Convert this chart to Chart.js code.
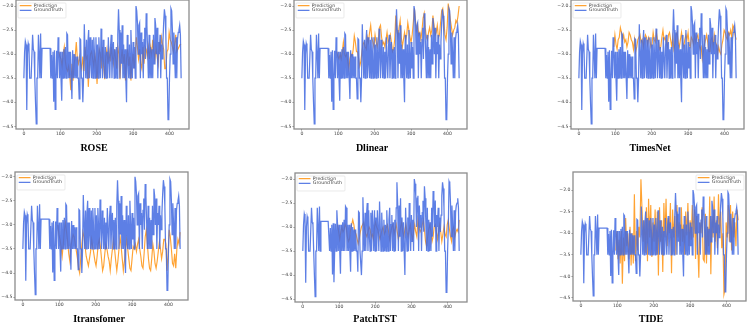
<!DOCTYPE html>
<html><head><meta charset="utf-8">
<script src="https://cdn.jsdelivr.net/npm/chart.js@4"></script>
<style>html,body{margin:0;padding:0;background:#fff;width:747px;height:323px;overflow:hidden}
canvas{position:absolute;left:0;top:0;filter:blur(0.4px)}</style></head><body>
<script>
const sampleX=[0,2,4,6,8,10,12,14,16,18,20,22,24,26,28,30,32,34,36,38,40,42,44,46,48,50,52,54,56,58,60,62,64,66,68,70,72,74,76,78,80,82,84,86,88,90,92,94,96,98,100,102,104,106,108,110,112,114,116,118,120,122,124,126,128,130,132,134,136,138,140,142,144,146,148,150,152,154,156,158,160,162,164,166,168,170,172,174,176,178,180,182,184,186,188,190,192,194,196,198,200,202,204,206,208,210,212,214,216,218,220,222,224,226,228,230,232,234,236,238,240,242,244,246,248,250,252,254,256,258,260,262,264,266,268,270,272,274,276,278,280,282,284,286,288,290,292,294,296,298,300,302,304,306,308,310,312,314,316,318,320,322,324,326,328,330,332,334,336,338,340,342,344,346,348,350,352,354,356,358,360,362,364,366,368,370,372,374,376,378,380,382,384,386,388,390,392,394,396,398,400,402,404,406,408,410,412,414,416,418,420,422,424,426,428,430,432];
const groundTruth=[-3.5,-2.95,-2.73,-2.8,-4.16,-3.0,-2.78,-2.85,-3.5,-3.5,-3.5,-3.5,-2.6,-2.9,-2.95,-3.5,-4.0,-4.45,-3.5,-3.5,-2.6,-3.0,-3.5,-2.57,-3.5,-2.88,-2.88,-2.88,-2.88,-2.88,-2.88,-2.88,-2.88,-2.88,-2.88,-2.88,-2.88,-3.5,-3.02,-3.5,-2.95,-3.99,-2.92,-4.15,-3.5,-2.93,-3.5,-2.65,-2.95,-3.5,-2.95,-3.5,-3.97,-2.95,-3.5,-2.9,-3.5,-2.85,-3.5,-2.57,-2.6,-3.5,-2.95,-3.5,-2.95,-3.5,-3.93,-2.92,-3.5,-3.0,-3.5,-3.05,-3.5,-3.05,-3.5,-3.5,-3.93,-2.68,-2.7,-3.5,-3.5,-4.0,-3.5,-2.38,-2.95,-3.5,-2.7,-3.5,-2.75,-2.5,-3.5,-2.65,-3.2,-3.5,-2.7,-3.5,-2.65,-3.0,-3.5,-2.65,-3.5,-2.8,-3.5,-2.65,-3.05,-3.5,-2.47,-3.0,-3.5,-2.7,-3.1,-3.5,-2.85,-3.5,-2.95,-3.5,-2.65,-3.1,-3.5,-2.85,-2.6,-3.5,-2.95,-2.75,-3.5,-2.9,-3.5,-2.85,-3.5,-2.6,-2.07,-2.5,-3.5,-2.55,-3.2,-2.4,-3.5,-2.8,-3.5,-2.9,-3.5,-4.0,-2.6,-3.1,-3.5,-2.8,-3.5,-2.5,-3.0,-3.5,-2.75,-3.3,-2.85,-3.5,-2.0,-2.1,-2.35,-3.0,-2.4,-2.35,-3.5,-2.55,-3.0,-2.75,-3.5,-2.7,-2.45,-3.1,-2.15,-2.4,-2.95,-3.5,-2.6,-3.5,-2.85,-3.5,-2.9,-3.5,-2.6,-3.2,-2.25,-2.4,-3.0,-2.45,-3.5,-2.75,-3.0,-2.6,-3.5,-2.8,-3.1,-2.75,-2.35,-2.07,-2.2,-2.6,-3.5,-3.5,-4.36,-4.35,-3.5,-3.0,-2.05,-2.1,-2.5,-3.2,-2.55,-3.0,-3.5,-2.65,-3.5,-2.7,-2.55,-2.5,-2.4,-2.6,-3.5];
const predX=[96,99,102,105,108,111,114,117,120,123,126,129,132,135,138,141,144,147,150,153,156,159,162,165,168,171,174,177,180,183,186,189,192,195,198,201,204,207,210,213,216,219,222,225,228,231,234,237,240,243,246,249,252,255,258,261,264,267,270,273,276,279,282,285,288,291,294,297,300,303,306,309,312,315,318,321,324,327,330,333,336,339,342,345,348,351,354,357,360,363,366,369,372,375,378,381,384,387,390,393,396,399,402,405,408,411,414,417,420,423,426,429,432];
const predROSE=[-2.95,-3.05,-3.1,-3.25,-3.0,-2.85,-3.15,-3.3,-3.35,-3.25,-3.45,-3.75,-3.2,-3.55,-3.2,-3.05,-2.75,-3.1,-3.2,-3.05,-3.2,-3.3,-3.05,-3.35,-2.85,-3.1,-3.05,-3.68,-3.2,-3.0,-2.95,-3.1,-3.25,-3.0,-3.2,-3.62,-3.15,-2.9,-3.0,-3.3,-2.85,-3.25,-3.52,-3.05,-2.9,-3.2,-2.95,-3.15,-2.85,-3.05,-3.2,-2.9,-3.1,-3.3,-2.85,-3.0,-3.52,-3.1,-2.9,-3.2,-3.0,-3.55,-3.1,-2.9,-3.25,-3.05,-3.55,-3.2,-3.0,-3.3,-3.0,-2.65,-2.85,-3.1,-2.9,-3.2,-3.3,-2.85,-3.2,-2.85,-2.9,-3.05,-2.85,-3.1,-2.85,-3.0,-2.7,-2.95,-3.1,-2.85,-3.05,-3.2,-2.75,-2.95,-2.65,-2.8,-2.9,-3.3,-3.3,-2.95,-2.9,-2.55,-2.7,-2.75,-2.85,-2.95,-2.8,-2.6,-2.95,-2.9,-2.85,-2.8,-2.8];
const predDlinear=[-2.95,-3.05,-3.1,-3.0,-3.1,-2.95,-2.75,-3.0,-3.05,-3.0,-3.15,-3.3,-3.1,-3.0,-3.05,-2.9,-2.62,-2.75,-2.95,-2.95,-3.1,-3.25,-3.15,-2.95,-2.8,-2.75,-2.85,-2.9,-2.65,-2.75,-2.55,-2.4,-2.65,-2.75,-2.85,-2.6,-2.75,-2.85,-2.7,-2.45,-2.4,-2.65,-2.8,-2.75,-2.85,-2.7,-2.55,-2.75,-2.7,-2.6,-2.75,-2.95,-2.9,-2.7,-2.2,-2.5,-2.65,-2.45,-2.3,-2.65,-2.85,-2.7,-2.55,-2.7,-2.6,-2.35,-2.5,-2.65,-2.75,-2.6,-2.35,-2.05,-2.3,-2.5,-2.4,-2.6,-2.55,-2.7,-2.5,-2.25,-2.15,-2.45,-2.65,-2.7,-2.55,-2.45,-2.6,-2.5,-2.2,-2.4,-2.6,-2.55,-2.4,-2.65,-2.6,-2.35,-2.1,-2.05,-2.3,-2.6,-2.7,-2.45,-1.95,-2.1,-2.3,-2.45,-2.6,-2.5,-2.45,-2.3,-2.35,-2.2,-2.0];
const predTimesNet=[-2.85,-2.6,-2.8,-2.9,-2.7,-2.65,-2.45,-2.55,-2.7,-2.6,-2.75,-2.7,-2.85,-2.75,-2.55,-2.6,-2.7,-2.75,-2.9,-2.7,-2.95,-2.85,-2.7,-2.65,-2.6,-2.75,-2.7,-2.85,-2.7,-2.6,-2.65,-2.8,-2.65,-2.7,-2.85,-2.8,-2.55,-2.7,-2.75,-2.55,-2.7,-2.75,-2.9,-2.85,-2.65,-2.5,-2.7,-2.65,-2.75,-2.85,-2.6,-2.55,-2.7,-2.85,-2.65,-2.9,-2.8,-2.6,-2.55,-2.75,-2.85,-2.7,-2.55,-2.75,-2.85,-2.7,-2.6,-2.7,-2.55,-2.8,-2.85,-2.65,-2.7,-2.8,-2.6,-2.75,-2.65,-2.6,-2.8,-2.9,-2.85,-3.1,-2.95,-2.8,-2.7,-2.6,-2.75,-2.95,-2.95,-2.7,-2.65,-2.85,-2.6,-2.75,-2.8,-3.0,-2.85,-2.95,-3.0,-2.8,-2.7,-2.5,-2.55,-2.65,-2.7,-2.55,-2.6,-2.5,-2.65,-2.4,-2.45,-2.6,-2.7];
const predItransfomer=[-3.0,-3.2,-3.3,-3.45,-3.65,-3.4,-3.1,-2.95,-3.15,-3.35,-3.6,-3.75,-3.45,-3.3,-3.2,-3.25,-3.4,-3.55,-3.7,-3.9,-4.0,-3.7,-3.4,-3.15,-3.25,-3.45,-3.65,-3.75,-3.85,-3.7,-3.55,-3.3,-3.45,-3.6,-3.75,-3.85,-3.65,-3.4,-3.3,-3.45,-3.7,-3.95,-3.85,-3.6,-3.4,-3.5,-3.65,-3.75,-3.95,-3.7,-3.5,-3.3,-3.5,-3.75,-3.95,-3.75,-3.5,-3.25,-3.45,-3.7,-3.95,-3.75,-3.5,-3.3,-3.5,-3.7,-3.9,-3.95,-3.7,-3.45,-3.5,-3.4,-3.55,-3.4,-3.3,-3.5,-3.65,-3.85,-3.9,-3.6,-3.25,-3.1,-3.4,-3.7,-3.9,-3.95,-3.7,-3.4,-3.55,-3.8,-3.9,-3.75,-3.55,-3.35,-3.5,-3.7,-3.55,-3.3,-3.3,-3.4,-3.95,-3.6,-3.1,-3.25,-3.5,-3.8,-3.85,-3.6,-3.9,-3.5,-3.3,-3.4,-3.15];
const predPatchTST=[-2.95,-3.1,-3.25,-3.1,-3.0,-3.1,-3.05,-2.95,-3.0,-3.2,-3.3,-3.25,-3.05,-2.95,-2.85,-2.95,-3.1,-3.15,-3.25,-3.35,-3.25,-3.1,-3.0,-2.95,-2.9,-3.05,-3.15,-3.2,-3.1,-3.0,-3.05,-3.2,-3.15,-3.25,-3.0,-2.9,-3.0,-3.05,-3.15,-3.25,-3.15,-3.05,-3.0,-3.15,-3.1,-3.0,-2.95,-3.1,-3.25,-3.1,-3.0,-2.95,-3.15,-3.05,-2.95,-3.1,-3.25,-3.15,-3.0,-2.9,-3.1,-3.2,-3.05,-2.95,-3.1,-3.2,-3.05,-2.95,-3.15,-3.25,-3.1,-2.95,-3.1,-3.2,-2.85,-3.0,-3.1,-3.05,-2.95,-2.85,-3.05,-3.3,-3.4,-3.2,-3.05,-2.95,-3.1,-3.3,-3.2,-3.0,-2.95,-3.1,-3.25,-3.1,-2.95,-3.1,-3.3,-3.15,-3.0,-3.15,-3.2,-2.95,-2.85,-3.05,-3.2,-3.3,-3.05,-3.0,-3.2,-3.1,-3.05,-3.1,-2.85];
const predTIDE=[-3.4,-2.95,-3.6,-3.15,-3.7,-2.95,-4.17,-3.1,-3.65,-2.65,-3.3,-3.0,-3.6,-2.85,-3.75,-3.0,-3.7,-2.1,-3.65,-2.95,-3.4,-2.85,-3.1,-1.75,-2.45,-3.2,-2.7,-3.45,-2.4,-3.65,-2.2,-3.1,-2.35,-3.55,-2.75,-3.2,-2.45,-3.5,-2.5,-3.98,-2.4,-3.2,-2.7,-3.9,-2.3,-3.1,-2.2,-3.3,-2.65,-3.0,-2.3,-3.93,-2.45,-3.1,-2.6,-3.5,-2.35,-3.1,-2.75,-3.3,-2.4,-3.2,-2.8,-3.5,-2.5,-3.05,-2.3,-3.3,-2.7,-3.15,-2.35,-3.1,-2.45,-3.6,-2.6,-3.2,-4.03,-2.75,-3.0,-2.4,-3.6,-3.65,-2.55,-3.7,-2.85,-3.3,-2.15,-3.95,-2.6,-3.1,-2.15,-3.2,-2.7,-3.35,-2.1,-3.0,-2.5,-3.35,-3.0,-4.42,-4.3,-2.75,-3.1,-2.35,-3.2,-2.35,-3.4,-2.5,-3.1,-2.75,-3.3,-2.45,-2.7];
const xTicks=[0,100,200,300,400];
const yTicks=[-2.0,-2.5,-3.0,-3.5,-4.0,-4.5];
const seriesNames=['Prediction','GroundTruth'];
const panels=[
 {name:'ROSE',pred:predROSE,l:16,r:189,t:0,b:129,ymin:-4.556,ymax:-1.875,tx:94,ty:148},
 {name:'Dlinear',pred:predDlinear,l:294,r:467,t:0,b:129,ymin:-4.556,ymax:-1.875,tx:372,ty:148},
 {name:'TimesNet',pred:predTimesNet,l:571,r:744,t:0,b:129,ymin:-4.556,ymax:-1.875,tx:650,ty:148},
 {name:'Itransfomer',pred:predItransfomer,l:15,r:188,t:172,b:300,ymin:-4.56,ymax:-1.9,tx:99,ty:319},
 {name:'PatchTST',pred:predPatchTST,l:295,r:467,t:173,b:302,ymin:-4.56,ymax:-1.875,tx:375,ty:319},
 {name:'TIDE',pred:predTIDE,l:573,r:746,t:172,b:301,ymin:-4.57,ymax:-1.583,tx:651,ty:319,legendRight:true}
];
const INK='#444';
const frameColor='#8c8c8c';
const panelPlugin={
 id:'panelPlugin',
 beforeDraw(chart,args,o){
  const ca=chart.chartArea, tb=chart.titleBlock, lg=chart.legend;
  tb.left=o.tx-60; tb.right=o.tx+60; tb.top=o.ty-6; tb.bottom=o.ty+6;
  const bw=48, bh=15;
  const bx=o.legendRight?ca.right-bw-2:ca.left+2, by=ca.top+3;
  lg.left=bx+1.5; lg.right=bx+bw+10; lg.top=by+0.2; lg.bottom=by+bh;
  chart.$box=[bx,by,bw,bh];
  if(!chart.$orig){chart.$orig=lg.draw; lg.draw=function(){};}
 },
 afterDatasetsDraw(chart){
  const c=chart.ctx,[bx,by,bw,bh]=chart.$box;
  c.save();
  c.fillStyle='rgba(255,255,255,0.8)'; c.strokeStyle='#dcdcdc'; c.lineWidth=0.6;
  c.beginPath(); c.roundRect(bx,by,bw,bh,1); c.fill(); c.stroke();
  c.restore();
  chart.$orig.call(chart.legend);
  const ca=chart.chartArea;
  c.save(); c.strokeStyle=frameColor; c.lineWidth=1.3;
  c.strokeRect(ca.left,ca.top,ca.right-ca.left,ca.bottom-ca.top);
  c.restore();
 }
};
panels.forEach(p=>{
 const cv=document.createElement('canvas');
 cv.width=747;cv.height=323;cv.style.width='747px';cv.style.height='323px';
 document.body.appendChild(cv);
 new Chart(cv,{
  type:'line',
  data:{datasets:[
   {label:seriesNames[0],data:p.pred.map((y,i)=>({x:predX[i],y})),borderColor:'rgba(255,140,0,0.8)',borderWidth:1.15,pointRadius:0,tension:0,order:2},
   {label:seriesNames[1],data:groundTruth.map((y,i)=>({x:sampleX[i],y})),borderColor:'rgba(65,105,225,0.85)',borderWidth:1.25,pointRadius:0,tension:0,order:1}
  ]},
  plugins:[panelPlugin],
  options:{
   responsive:false,animation:false,events:[],
   devicePixelRatio:1,
   layout:{padding:{left:p.l-14,right:747-p.r,top:p.t,bottom:323-p.b-24}},
   plugins:{
    panelPlugin:{tx:p.tx,ty:p.ty,legendRight:!!p.legendRight},
    tooltip:{enabled:false},
    title:{display:true,text:p.name,position:'bottom',padding:0,color:'#000',font:{family:'"Liberation Serif"',size:10,weight:'bold',lineHeight:1.2}},
    legend:{display:true,position:'chartArea',align:'start',labels:{usePointStyle:true,pointStyle:'line',pointStyleWidth:12,boxHeight:4.7,padding:0,color:INK,sort:(a,b)=>a.datasetIndex-b.datasetIndex,font:{family:'"DejaVu Sans"',size:4.7,lineHeight:1.5}}}
   },
   scales:{
    x:{type:'linear',min:-21.6,max:453.6,
     border:{display:false},
     grid:{drawOnChartArea:false,drawTicks:true,tickLength:1.5,tickColor:INK,tickWidth:0.6},
     ticks:{color:INK,padding:1,maxRotation:0,autoSkip:false,font:{family:'"DejaVu Sans"',size:4.6},callback:v=>String(v)},
     afterBuildTicks:s=>{s.ticks=xTicks.map(v=>({value:v}));},
     afterFit:s=>{s.height=12;s.paddingLeft=s.paddingRight=s.paddingTop=s.paddingBottom=0;}},
    y:{type:'linear',min:p.ymin,max:p.ymax,
     border:{display:false},
     grid:{drawOnChartArea:false,drawTicks:true,tickLength:1.5,tickColor:INK,tickWidth:0.6},
     ticks:{color:INK,padding:1,autoSkip:false,font:{family:'"DejaVu Sans"',size:4.6},callback:v=>'\u2212'+Math.abs(v).toFixed(1)},
     afterBuildTicks:s=>{s.ticks=yTicks.map(v=>({value:v}));},
     afterFit:s=>{s.width=14;s.paddingLeft=s.paddingRight=s.paddingTop=s.paddingBottom=0;}}
   }
  }
 });
});
</script>
</body></html>
